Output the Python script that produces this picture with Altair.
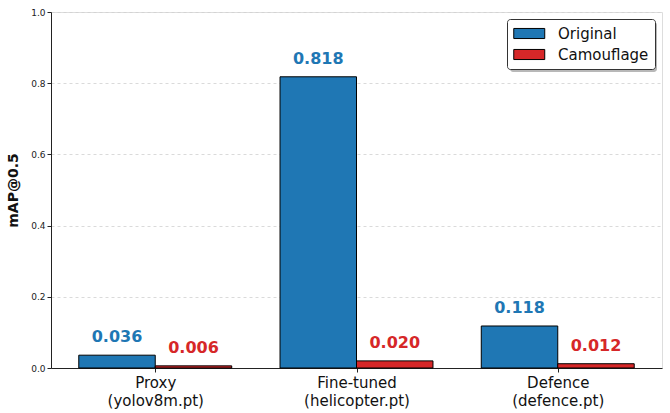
import json
import altair as alt
import pandas as pd

# ---- data ----
categories = ["Proxy", "Fine-tuned", "Defence"]
model_files = ["(yolov8m.pt)", "(helicopter.pt)", "(defence.pt)"]
series = ["Original", "Camouflage"]
original = [0.036, 0.818, 0.118]
camouflage = [0.006, 0.020, 0.012]
colors = ["#1f77b4", "#d62728"]
y_ticks = [0.0, 0.2, 0.4, 0.6, 0.8, 1.0]

rows = []
for i, c in enumerate(categories):
    rows.append({"idx": i, "category": c, "series": series[0], "so": -1, "value": original[i]})
    rows.append({"idx": i, "category": c, "series": series[1], "so": 0, "value": camouflage[i]})
df = pd.DataFrame(rows)

bar_w = 0.38
n = len(categories)
x_dom = [-bar_w - 0.138, (n - 1) + bar_w + 0.138]

label_expr = " : ".join(
    f"datum.value == {i} ? {json.dumps([categories[i], model_files[i]])}" for i in range(n)
) + " : ''"

color_scale = alt.Scale(domain=series, range=colors)
font = "DejaVu Sans"

base = alt.Chart(df).transform_calculate(
    x0=f"datum.idx + datum.so * {bar_w}",
    x1=f"datum.idx + (datum.so + 1) * {bar_w}",
    xc=f"datum.idx + (datum.so + 0.5) * {bar_w}",
)

x_axis = alt.Axis(
    values=list(range(n)), labelExpr=label_expr, title=None, grid=False,
    labelFontSize=15, labelLineHeight=18, labelPadding=3, tickSize=4,
    domainColor="#222", tickColor="#222", labelColor="#111", labelFont=font,
)
y_axis = alt.Axis(
    values=y_ticks, format=".1f", title="mAP@0.5", grid=True,
    gridDash=[3, 3], gridColor="#d0d0d0", gridWidth=0.8,
    labelFontSize=9, labelFont=font, labelColor="#222", tickSize=4,
    domainColor="#222", tickColor="#222",
    titleFontSize=14, titleFontWeight="bold", titleFont=font, titlePadding=10,
    titleColor="#111",
)

x_scale = alt.Scale(domain=x_dom, nice=False, zero=False)
y_scale = alt.Scale(domain=[0, 1], nice=False)

bars = base.mark_bar(stroke="black", strokeWidth=1).encode(
    x=alt.X("x0:Q", scale=x_scale, axis=x_axis),
    x2="x1:Q",
    y=alt.Y("value:Q", scale=y_scale, axis=y_axis),
    y2=alt.datum(0),
    color=alt.Color(
        "series:N", scale=color_scale, sort=series,
        legend=alt.Legend(
            title=None, orient="none", legendX=456, legendY=7,
            fillColor="white", strokeColor="#333", cornerRadius=3, padding=6,
            labelFontSize=15, labelFont=font, labelColor="#111",
            symbolType="M-1,-0.65H3V0.65H-1Z", symbolSize=240,
            symbolStrokeColor="black", symbolStrokeWidth=1, symbolOpacity=1,
            labelOffset=28, rowPadding=4,
        ),
    ),
)

labels = base.mark_text(
    fontWeight="bold", fontSize=16, dy=-13, baseline="alphabetic", font=font
).encode(
    x=alt.X("xc:Q", scale=x_scale),
    y=alt.Y("value:Q", scale=y_scale),
    text=alt.Text("value:Q", format=".3f"),
    color=alt.Color("series:N", scale=color_scale, legend=None),
)

shadow = alt.Chart(alt.Data(values=[{"a": 1}])).mark_rect(
    color="#888", opacity=0.6, cornerRadius=3
).encode(
    x=alt.value(459), x2=alt.value(606), y=alt.value(10), y2=alt.value(60)
)

chart = alt.layer(shadow, bars, labels).properties(
    width=611, height=356,
    autosize=alt.AutoSizeParams(type="none"),
    padding={"left": 51, "top": 12, "right": 8, "bottom": 45},
).configure_view(stroke=None).configure(font=font)

chart.save("out.html", embed_options={"renderer": "svg", "actions": False})
